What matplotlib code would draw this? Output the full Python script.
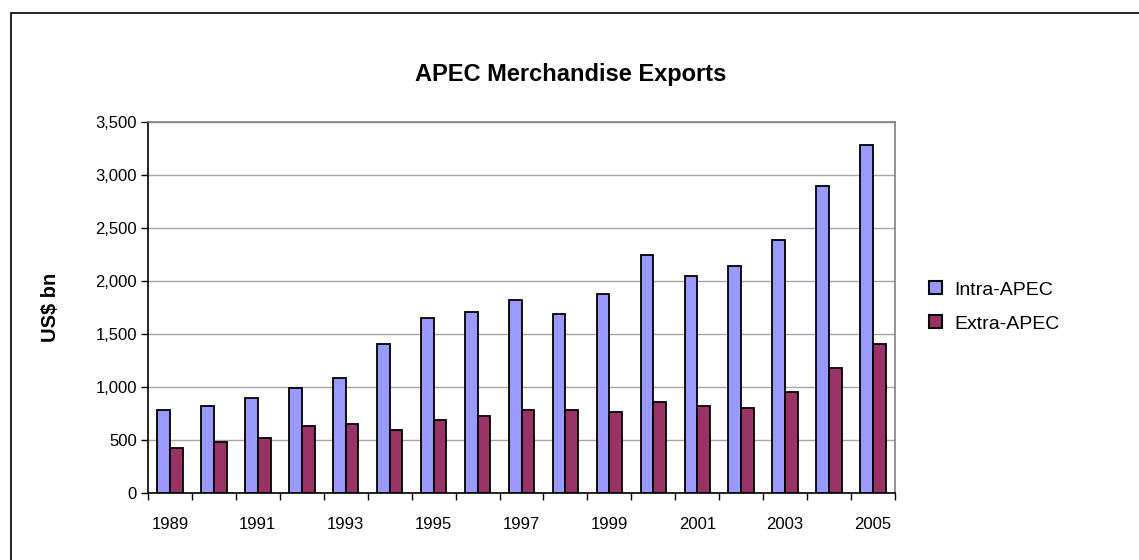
import matplotlib
matplotlib.use("Agg")
import matplotlib.pyplot as plt
import numpy as np
from matplotlib.patches import Rectangle

plt.rcParams['font.family'] = ['Liberation Sans', 'DejaVu Sans']

years = [str(y) for y in range(1989, 2006)]
intra_apec = [788, 825, 901, 995, 1089, 1409, 1654, 1711, 1824, 1689, 1880,
              2242, 2050, 2144, 2389, 2898, 3281]
extra_apec = [430, 486, 524, 637, 656, 599, 693, 731, 787, 785, 769,
              863, 825, 804, 957, 1183, 1409]
yticks = [0, 500, 1000, 1500, 2000, 2500, 3000, 3500]
ytick_labels = ["0", "500", "1,000", "1,500", "2,000", "2,500", "3,000", "3,500"]

W, H = 1139, 560
fig = plt.figure(figsize=(W / 100, H / 100), dpi=100)
fig.patch.set_facecolor('white')

# outer chart border (top and left visible)
fig.patches.append(Rectangle((11 / W, -0.05), 1.2, 1 - 13 / H + 0.05,
                             transform=fig.transFigure, fill=False,
                             edgecolor='black', linewidth=1.2))

ax = fig.add_axes([148 / W, (H - 493.3) / H, (895 - 148) / W, (493.3 - 121.7) / H])
x = np.arange(len(years))
bw = 0.29
ax.bar(x - bw / 2, intra_apec, width=bw, color='#9999FF', edgecolor='black',
       linewidth=1.3, label='Intra-APEC', zorder=3)
ax.bar(x + bw / 2, extra_apec, width=bw, color='#993366', edgecolor='black',
       linewidth=1.3, label='Extra-APEC', zorder=3)

ax.set_xlim(-0.5, len(years) - 0.5)
ax.set_ylim(0, 3500)
ax.set_yticks(yticks)
ax.set_yticklabels(ytick_labels, fontsize=12)
ax.yaxis.grid(True, color='#A6A6A6', linewidth=1, zorder=0)
ax.set_axisbelow(True)

ax.set_xticks(x)
ax.set_xticklabels([y if i % 2 == 0 else '' for i, y in enumerate(years)], fontsize=12)
ax.tick_params(axis='x', which='major', length=0, pad=17)
ax.set_xticks(np.arange(-0.5, len(years)), minor=True)
ax.tick_params(axis='x', which='minor', length=5, width=1, color='black', direction='out')
ax.tick_params(axis='y', length=5, width=1, color='black', direction='out', pad=3)

for s in ['top', 'right']:
    ax.spines[s].set_color('#808080')
    ax.spines[s].set_linewidth(1.2)
for s in ['left', 'bottom']:
    ax.spines[s].set_color('black')
    ax.spines[s].set_linewidth(1.2)

fig.text(571 / W, 1 - 75 / H, 'APEC Merchandise Exports', ha='center', va='center',
         fontsize=17, fontweight='bold')
fig.text(50 / W, 1 - 307 / H, 'US$ bn', ha='center', va='center', rotation=90,
         fontsize=14.5, fontweight='bold')

leg = fig.legend(loc='center left', bbox_to_anchor=(929 / W, 1 - 307 / H),
                 frameon=False, fontsize=14, handlelength=0.65, handleheight=0.65,
                 handletextpad=0.65, labelspacing=0.85, borderpad=0, borderaxespad=0)
for h in leg.legend_handles:
    h.set_linewidth(1.5)

fig.savefig('out.png', dpi=100)
